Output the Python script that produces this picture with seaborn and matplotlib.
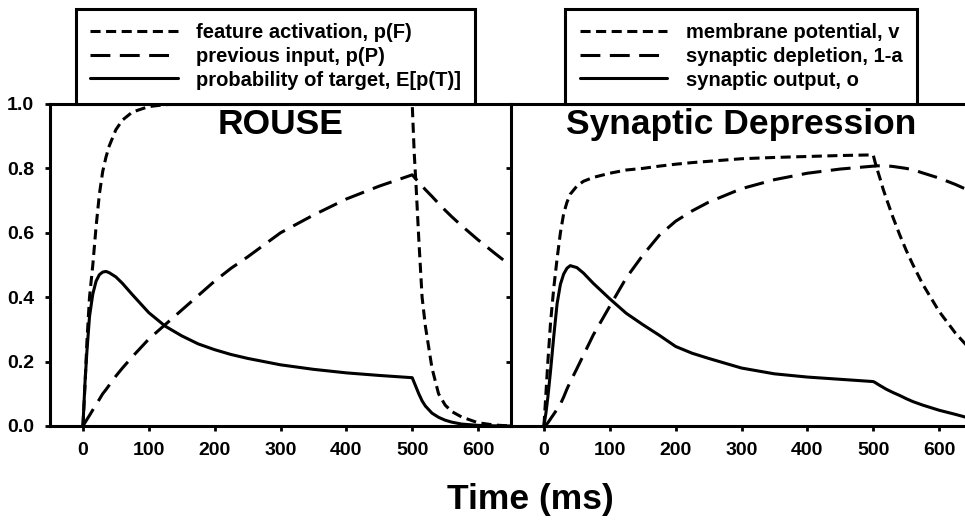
import numpy as np
import pandas as pd
import seaborn as sns
import matplotlib.pyplot as plt

# time samples (ms), shared by both panels
time_ms = [0, 3, 6, 10, 15, 20, 25, 30, 35, 40, 50, 60, 75, 100, 125, 150, 175, 200,
           225, 250, 300, 350, 400, 450, 500, 503, 506, 510, 515, 520, 530, 540, 550,
           560, 575, 600, 625, 650]

# ROUSE panel
feature_activation = [0.0, 0.12, 0.26, 0.40, 0.50, 0.62, 0.72, 0.79, 0.835, 0.87, 0.92,
                      0.95, 0.975, 0.992, 0.998, 1.0, 1.0, 1.0, 1.0, 1.0, 1.0, 1.0, 1.0,
                      1.0, 1.0, 0.85, 0.74, 0.58, 0.40, 0.31, 0.18, 0.10, 0.065, 0.045,
                      0.028, 0.01, 0.003, 0.0]
previous_input = [0.0, 0.01, 0.02, 0.033, 0.05, 0.067, 0.083, 0.10, 0.113, 0.127, 0.155,
                  0.18, 0.215, 0.27, 0.315, 0.36, 0.405, 0.45, 0.49, 0.525, 0.60, 0.655,
                  0.705, 0.745, 0.78, 0.773, 0.766, 0.757, 0.745, 0.734, 0.713, 0.691,
                  0.67, 0.65, 0.622, 0.578, 0.537, 0.497]
prob_target = [0.0, 0.13, 0.23, 0.34, 0.41, 0.45, 0.47, 0.478, 0.48, 0.476, 0.463, 0.443,
               0.408, 0.352, 0.31, 0.28, 0.255, 0.237, 0.222, 0.21, 0.19, 0.176, 0.165,
               0.157, 0.15, 0.135, 0.12, 0.10, 0.078, 0.062, 0.04, 0.027, 0.018, 0.012,
               0.006, 0.002, 0.0005, 0.0]

# Synaptic depression panel
membrane_potential = [0.0, 0.10, 0.20, 0.32, 0.43, 0.52, 0.60, 0.66, 0.695, 0.72, 0.745,
                      0.76, 0.772, 0.785, 0.795, 0.80, 0.807, 0.813, 0.818, 0.822, 0.83,
                      0.834, 0.837, 0.84, 0.842, 0.818, 0.797, 0.771, 0.736, 0.706,
                      0.648, 0.595, 0.546, 0.502, 0.441, 0.356, 0.288, 0.232]
synaptic_depletion = [0.0, 0.003, 0.01, 0.022, 0.037, 0.052, 0.068, 0.09, 0.115, 0.137,
                      0.178, 0.22, 0.283, 0.372, 0.46, 0.53, 0.592, 0.636, 0.668, 0.695,
                      0.737, 0.765, 0.785, 0.798, 0.807, 0.807, 0.808, 0.808, 0.808,
                      0.808, 0.806, 0.803, 0.80, 0.796, 0.786, 0.77, 0.75, 0.727]
synaptic_output = [0.0, 0.04, 0.09, 0.17, 0.28, 0.38, 0.44, 0.472, 0.49, 0.498, 0.492,
                   0.475, 0.443, 0.395, 0.35, 0.315, 0.282, 0.247, 0.226, 0.21, 0.18,
                   0.162, 0.152, 0.145, 0.138, 0.135, 0.131, 0.126, 0.12, 0.114, 0.104,
                   0.095, 0.085, 0.076, 0.065, 0.049, 0.036, 0.022]

left_labels = ["feature activation, p(F)", "previous input, p(P)",
               "probability of target, E[p(T)]"]
right_labels = ["membrane potential, v", "synaptic depletion, 1-a",
                "synaptic output, o"]

sns.set_theme(style="ticks")
plt.rcParams["font.family"] = ["Liberation Sans", "DejaVu Sans"]
plt.rcParams["font.weight"] = "bold"
for key in ["text.color", "axes.labelcolor", "xtick.color", "ytick.color",
            "axes.edgecolor"]:
    plt.rcParams[key] = "black"

short_dash = (0, (3.3, 1.8))
long_dash = (0, (6.5, 3.1))
styles = [short_dash, long_dash, "-"]
LW = 2.2

fig = plt.figure(figsize=(9.65, 5.21), dpi=100)
ax1 = fig.add_axes([50 / 965, 1 - 426 / 521, 461 / 965, 322 / 521])
ax2 = fig.add_axes([511 / 965, 1 - 426 / 521, 461 / 965, 322 / 521])

panels = [
    (ax1, [feature_activation, previous_input, prob_target], left_labels, "ROUSE", 0.489),
    (ax2, [membrane_potential, synaptic_depletion, synaptic_output], right_labels,
     "Synaptic Depression", 0.499),
]

for ax, series, labels, title, lx in panels:
    for vals, lab, ls in zip(series, labels, styles):
        df = pd.DataFrame({"t": time_ms, "v": vals})
        sns.lineplot(data=df, x="t", y="v", ax=ax, color="black", lw=LW,
                     linestyle=ls, label=lab)
    ax.set_xlim(-50, 650)
    ax.set_ylim(0, 1.0)
    ax.set_xticks(range(0, 700, 100))
    ax.set_yticks([0.0, 0.2, 0.4, 0.6, 0.8, 1.0])
    ax.set_xlabel("")
    ax.set_ylabel("")
    for side in ["left", "bottom", "top"]:
        ax.spines[side].set_linewidth(2.2)
        ax.spines[side].set_color("black")
    ax.spines["right"].set_visible(False)
    ax.tick_params(axis="both", length=3.6, width=2.0, color="black",
                   labelsize=14, pad=8)
    for lbl in ax.get_xticklabels() + ax.get_yticklabels():
        lbl.set_fontweight("bold")
    ax.text(0.5, 0.935, title, transform=ax.transAxes, ha="center", va="center",
            fontsize=25.5, fontweight="bold")
    leg = ax.legend(loc="lower center", bbox_to_anchor=(lx, 1.0), borderaxespad=0,
                    frameon=True, fancybox=False, fontsize=14.5, handlelength=4.35,
                    handletextpad=0.9, labelspacing=0.23, borderpad=0.72)
    leg.get_frame().set_edgecolor("black")
    leg.get_frame().set_linewidth(2.2)
    leg.get_frame().set_alpha(1)
    for txt in leg.get_texts():
        txt.set_fontweight("bold")
    for h in leg.get_lines():
        h.set_linewidth(LW)
    leg.set_zorder(5)

ax2.set_yticklabels([])

fig.text(530 / 965, 1 - 500 / 521, "Time (ms)", ha="center", va="center",
         fontsize=25.5, fontweight="bold")

fig.savefig("out.png", dpi=100)
